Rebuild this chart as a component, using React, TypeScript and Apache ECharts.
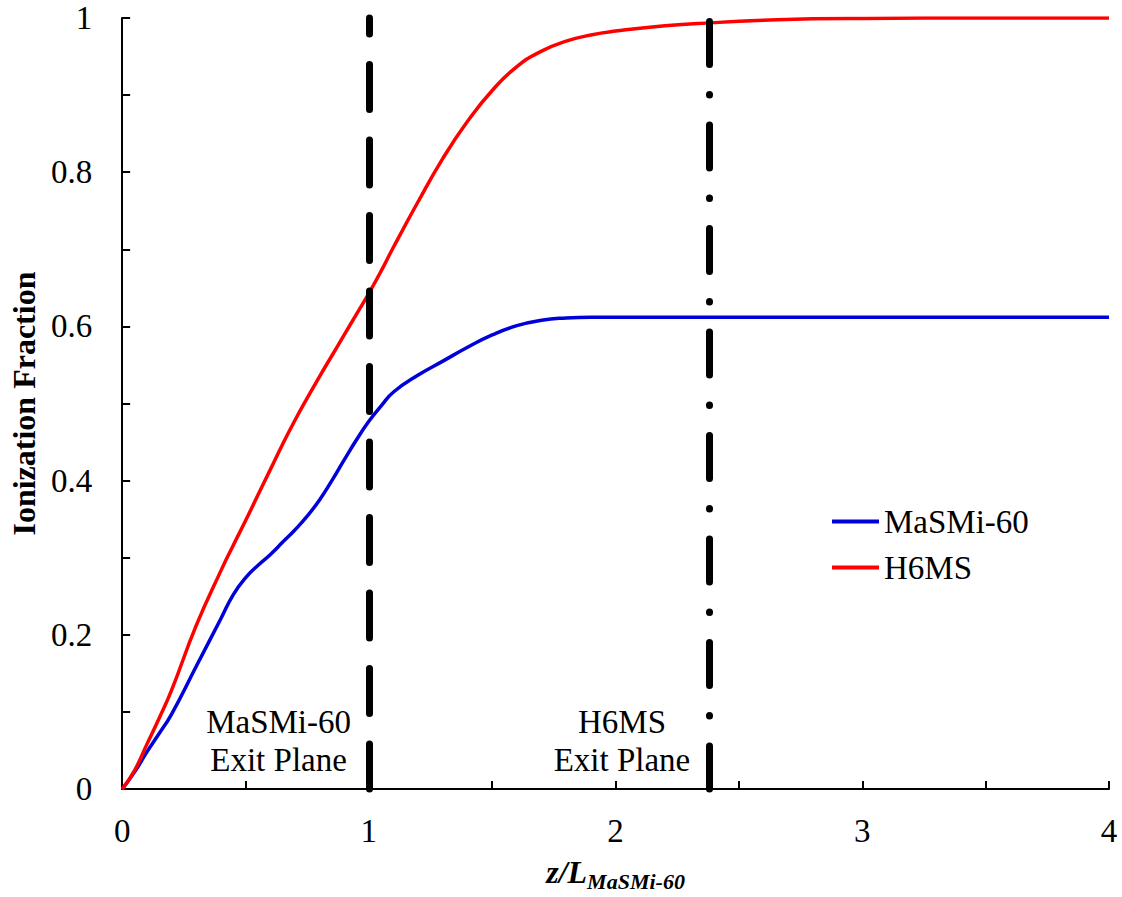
import React, { useEffect, useRef } from "react";
import * as echarts from "echarts";

const zValues = [0, 0.05, 0.1, 0.15, 0.2, 0.3, 0.4, 0.45, 0.5, 0.55, 0.6, 0.65, 0.7, 0.75, 0.8, 0.85, 0.9, 0.95, 1.0, 1.05, 1.1, 1.2, 1.3, 1.4, 1.5, 1.6, 1.7, 1.8, 1.9, 2.0, 2.2, 2.4, 2.6, 2.8, 3.0, 3.5, 4.0];

const masmi60 = [0, 0.022, 0.048, 0.072, 0.097, 0.159, 0.221, 0.252, 0.274, 0.29, 0.304, 0.32, 0.336, 0.354, 0.375, 0.4, 0.427, 0.453, 0.477, 0.497, 0.515, 0.537, 0.555, 0.573, 0.589, 0.601, 0.608, 0.611, 0.612, 0.612, 0.612, 0.612, 0.612, 0.612, 0.612, 0.612, 0.612];

const h6ms = [0, 0.024, 0.058, 0.092, 0.128, 0.212, 0.283, 0.316, 0.348, 0.381, 0.414, 0.447, 0.478, 0.507, 0.535, 0.562, 0.589, 0.616, 0.643, 0.672, 0.703, 0.762, 0.818, 0.866, 0.906, 0.937, 0.957, 0.97, 0.978, 0.983, 0.99, 0.994, 0.997, 0.999, 0.9995, 1.0, 1.0];

const seriesNames = ["MaSMi-60", "H6MS"];
const exitPlanes = [1.0, 2.38];
const annotations = [
  { text: "MaSMi-60\nExit Plane", z: 0.634, f: 0.0625 },
  { text: "H6MS\nExit Plane", z: 2.026, f: 0.0625 },
];

const FONT = "'Liberation Serif', 'Times New Roman', serif";

export default function App() {
  const ref = useRef<HTMLDivElement>(null);
  useEffect(() => {
    if (!ref.current) return;
    const chart = echarts.init(ref.current, undefined, { renderer: "svg" });
    const toPairs = (ys: number[]) => zValues.map((z, i) => [z, ys[i]]);
    chart.setOption({
      animation: false,
      backgroundColor: "#ffffff",
      textStyle: { fontFamily: FONT, color: "#000" },
      grid: { left: 118, right: 13, top: 18, bottom: 95, containLabel: false },
      legend: {
        data: seriesNames,
        orient: "vertical",
        left: 827,
        top: 500,
        icon: "rect",
        itemWidth: 47,
        itemHeight: 4,
        itemGap: 13,
        textStyle: { fontFamily: FONT, fontSize: 33, color: "#000", lineHeight: 33 },
      },
      xAxis: {
        type: "value",
        min: 0,
        max: 4,
        interval: 0.5,
        name: "{a|z/L}{b|MaSMi-60}",
        nameLocation: "middle",
        nameGap: 50,
        nameTextStyle: {
          rich: {
            a: { fontFamily: FONT, fontSize: 32, fontWeight: "bold", fontStyle: "italic", color: "#000", lineHeight: 36 },
            b: { fontFamily: FONT, fontSize: 22, fontWeight: "bold", fontStyle: "italic", color: "#000", lineHeight: 36, padding: [18, 0, 0, 0] },
          },
        },
        axisLine: { show: true, lineStyle: { color: "#000", width: 2 } },
        axisTick: { show: true, inside: true, length: 8, lineStyle: { color: "#000", width: 2 } },
        axisLabel: {
          margin: 25,
          fontFamily: FONT,
          fontSize: 33,
          color: "#000",
          formatter: (v: number) => (Math.abs(v - Math.round(v)) < 1e-6 ? String(Math.round(v)) : ""),
        },
        splitLine: { show: false },
      },
      yAxis: {
        type: "value",
        min: 0,
        max: 1,
        interval: 0.1,
        name: "Ionization Fraction",
        nameLocation: "middle",
        nameGap: 76,
        nameTextStyle: { fontFamily: FONT, fontSize: 32, fontWeight: "bold", color: "#000" },
        axisLine: { show: true, lineStyle: { color: "#000", width: 2 } },
        axisTick: { show: true, inside: true, length: 8, lineStyle: { color: "#000", width: 2 } },
        axisLabel: {
          margin: 30,
          fontFamily: FONT,
          fontSize: 33,
          color: "#000",
          formatter: (v: number) => {
            const t = Math.round(v * 10);
            return t % 2 === 0 ? String(t / 10) : "";
          },
        },
        splitLine: { show: false },
      },
      series: [
        {
          name: seriesNames[0],
          type: "line",
          data: toPairs(masmi60),
          symbol: "none",
          smooth: 0.5,
          lineStyle: { color: "#0000d8", width: 3.5 },
          itemStyle: { color: "#0000d8" },
          z: 3,
          markLine: {
            silent: true,
            symbol: "none",
            label: { show: false },
            data: [
              {
                xAxis: exitPlanes[0],
                lineStyle: { color: "#000", width: 7, type: [45, 30.5], cap: "round", dashOffset: 0 },
              },
              {
                xAxis: exitPlanes[1],
                lineStyle: { color: "#000", width: 7, type: [43, 30, 0.5, 30], cap: "round", dashOffset: 0 },
              },
            ],
          },
          markPoint: {
            silent: true,
            symbol: "circle",
            symbolSize: 0,
            label: {
              show: true,
              position: "inside",
              fontFamily: FONT,
              fontSize: 33,
              lineHeight: 37.5,
              color: "#000",
              formatter: (p: any) => p.name,
            },
            data: annotations.map((a) => ({ name: a.text, coord: [a.z, a.f] })),
          },
        },
        {
          name: seriesNames[1],
          type: "line",
          data: toPairs(h6ms),
          symbol: "none",
          smooth: 0.5,
          lineStyle: { color: "#ff0000", width: 3.5 },
          itemStyle: { color: "#ff0000" },
          z: 4,
        },
      ],
    });
    return () => chart.dispose();
  }, []);
  return (
    <div
      ref={ref}
      style={{ position: "absolute", left: 0, top: 0, width: 1122, height: 897 }}
    />
  );
}
